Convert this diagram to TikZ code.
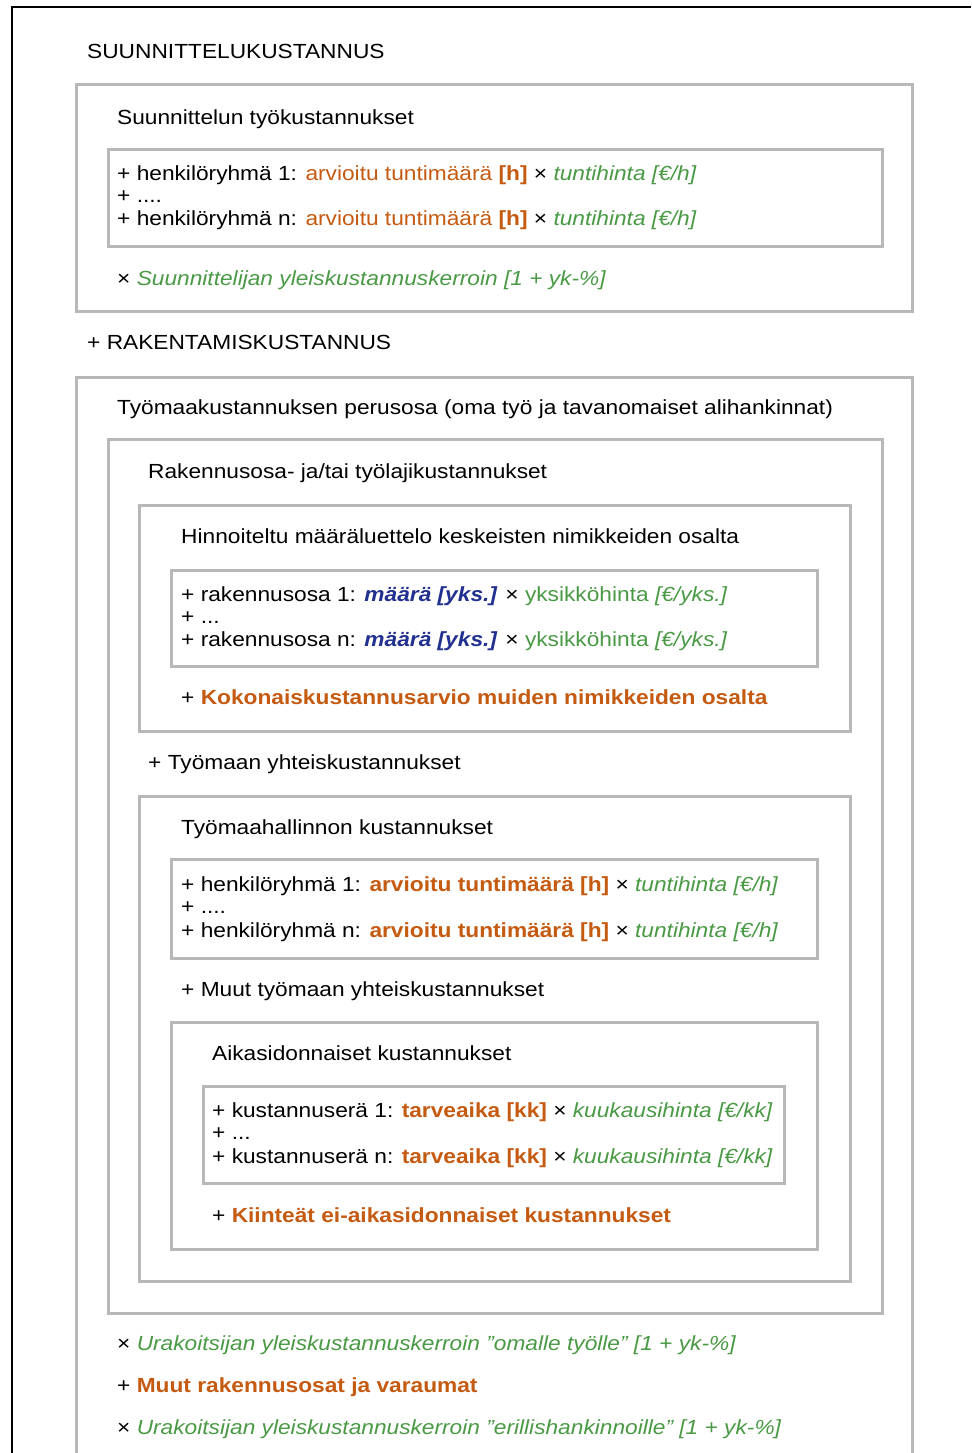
\documentclass[tikz,border=0pt]{standalone}
\usepackage{fontspec}
\setmainfont{Liberation Sans}[FakeStretch=1.112]
\definecolor{orng}{HTML}{C55A11}
\definecolor{grn}{HTML}{4A9A45}
\definecolor{blu}{HTML}{22308F}
\definecolor{bxc}{HTML}{B8B8B8}
\newcommand{\og}[1]{\textcolor{orng}{#1}}
\newcommand{\ob}[1]{\textcolor{orng}{\bfseries #1}}
\newcommand{\gi}[1]{\textcolor{grn}{\itshape #1}}
\newcommand{\gu}[1]{\textcolor{grn}{#1}}
\newcommand{\bb}[1]{\textcolor{blu}{\bfseries\itshape #1}}
\begin{document}
\begin{tikzpicture}[x=1bp,y=-1bp,
  box/.style={draw=bxc,line width=3bp},
  txt/.style={anchor=base west,inner sep=0pt,font=\fontsize{20.5}{22}\selectfont}]
\useasboundingbox (0,0) rectangle (971,1453);
\fill[white] (0,0) rectangle (971,1453);
\draw[line width=2.5bp] (12,1453) -- (12,7) -- (971,7);

% boxes
\draw[box] (76,85) rectangle (912,311);
\draw[box] (108,150) rectangle (882,246);
\draw[box] (76,1453) -- (76,377) -- (912,377) -- (912,1453);
\draw[box] (108,439) rectangle (882,1313);
\draw[box] (139,505) rectangle (850,731);
\draw[box] (171,570) rectangle (817,666);
\draw[box] (139,796) rectangle (850,1281);
\draw[box] (171,859) rectangle (817,958);
\draw[box] (171,1022) rectangle (817,1249);
\draw[box] (203,1086) rectangle (784,1183);

% texts
\node[txt] (t1) at (87,59) {SUUNNITTELUKUSTANNUS};
\node[txt] (t2) at (117,125) {Suunnittelun työkustannukset};
\node[txt] (a1) at (117,181) {+ henkilöryhmä 1: \og{arvioitu tuntimäärä} \ob{[h]} × \gi{tuntihinta [€/h]}};
\node[txt] (a2) at (117,203) {+ ....};
\node[txt] (a3) at (117,225) {+ henkilöryhmä n: \og{arvioitu tuntimäärä} \ob{[h]} × \gi{tuntihinta [€/h]}};
\node[txt] (a4) at (117,285) {× \gi{Suunnittelijan yleiskustannuskerroin [1 + yk-\%]}};
\node[txt] (t3) at (87,349) {+ RAKENTAMISKUSTANNUS};
\node[txt] (t4) at (117,414) {Työmaakustannuksen perusosa (oma työ ja tavanomaiset alihankinnat)};
\node[txt] (t5) at (148,478) {Rakennusosa- ja/tai työlajikustannukset};
\node[txt] (t6) at (181,543) {Hinnoiteltu määräluettelo keskeisten nimikkeiden osalta};
\node[txt] (d1) at (181,601) {+ rakennusosa 1: \bb{määrä [yks.]} × \gu{yksikköhinta \itshape[€/yks.]}};
\node[txt] (d2) at (181,623) {+ ...};
\node[txt] (d3) at (181,646) {+ rakennusosa n: \bb{määrä [yks.]} × \gu{yksikköhinta \itshape[€/yks.]}};
\node[txt] (d4) at (181,704) {+ \ob{Kokonaiskustannusarvio muiden nimikkeiden osalta}};
\node[txt] (t7) at (148,769) {+ Työmaan yhteiskustannukset};
\node[txt] (t8) at (181,834) {Työmaahallinnon kustannukset};
\node[txt] (e1) at (181,891) {+ henkilöryhmä 1: \ob{arvioitu tuntimäärä [h]} × \gi{tuntihinta [€/h]}};
\node[txt] (e2) at (181,913) {+ ....};
\node[txt] (e3) at (181,937) {+ henkilöryhmä n: \ob{arvioitu tuntimäärä [h]} × \gi{tuntihinta [€/h]}};
\node[txt] (e4) at (181,996) {+ Muut työmaan yhteiskustannukset};
\node[txt] (t9) at (212,1060) {Aikasidonnaiset kustannukset};
\node[txt] (f1) at (212,1117) {+ kustannuserä 1: \ob{tarveaika [kk]} × \gi{kuukausihinta [€/kk]}};
\node[txt] (f2) at (212,1139) {+ ...};
\node[txt] (f3) at (212,1163) {+ kustannuserä n: \ob{tarveaika [kk]} × \gi{kuukausihinta [€/kk]}};
\node[txt] (f4) at (212,1222) {+ \ob{Kiinteät ei-aikasidonnaiset kustannukset}};
\node[txt] (g1) at (117,1350) {× \gi{Urakoitsijan yleiskustannuskerroin ”omalle työlle” [1 + yk-\%]}};
\node[txt] (g2) at (117,1392) {+ \ob{Muut rakennusosat ja varaumat}};
\node[txt] (g3) at (117,1434) {× \gi{Urakoitsijan yleiskustannuskerroin ”erillishankinnoille” [1 + yk-\%]}};
\end{tikzpicture}
\end{document}
